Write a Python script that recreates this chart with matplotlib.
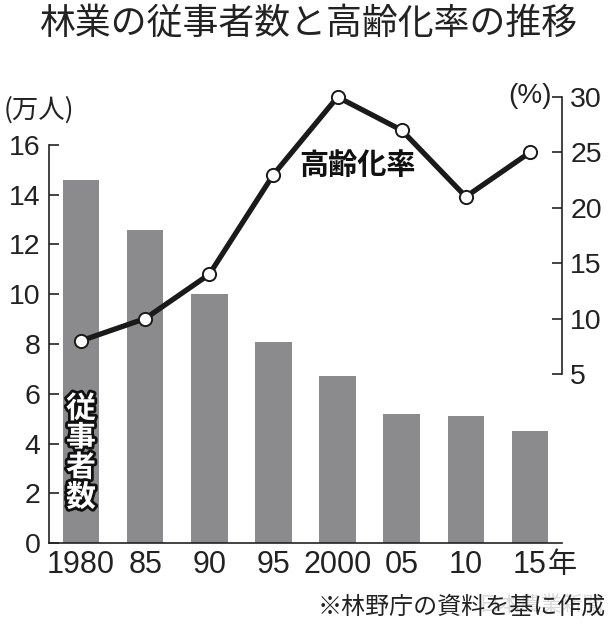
import matplotlib
matplotlib.use("Agg")
import matplotlib.pyplot as plt
import matplotlib.patheffects as pe

plt.rcParams['font.family'] = ['Noto Sans CJK JP', 'DejaVu Sans']

years = ["1980", "85", "90", "95", "2000", "05", "10", "15年"]
workers = [14.6, 12.6, 10.0, 8.1, 6.7, 5.2, 5.1, 4.5]      # 万人
aging = [8, 10, 14, 23, 30, 27, 21, 25]                     # %
left_ticks = [0, 2, 4, 6, 8, 10, 12, 14, 16]
right_ticks = [5, 10, 15, 20, 25, 30]

NUM = ['Liberation Sans', 'Noto Sans CJK JP', 'DejaVu Sans']
INK = '#222222'

W, H = 614, 630
fig = plt.figure(figsize=(W / 100, H / 100), dpi=100)
ax = fig.add_axes([49 / W, (H - 543) / H, (562 - 49) / W, (543 - 97) / H])
ax2 = ax.twinx()

x = list(range(len(years)))
ax.bar(x, workers, width=0.57, color='#8b8b8d', zorder=1)
ax.set_xlim(-0.5, 7.5)
ax.set_ylim(0, (543 - 97) / ((543 - 145) / 16))
ax.set_yticks(left_ticks)
ax.set_xticks(x)
# the unit "年" on the last label is drawn after the number, number centred on the bar
ax.set_xticklabels([y.replace("年", "") for y in years])

ax2.plot(x, aging, color='#1a1a1a', lw=3.8, marker='o', ms=9.5,
         mfc='white', mec='#1a1a1a', mew=1.4, zorder=5, clip_on=False)
r_per_px = (30 - 5) / (374 - 97)
ax2.set_ylim(5 - (543 - 374) * r_per_px, 30)
ax2.set_yticks(right_ticks)

ax2.set_zorder(ax.get_zorder() + 1)
ax2.patch.set_visible(False)

for a in (ax, ax2):
    a.spines['top'].set_visible(False)
    for s in a.spines.values():
        s.set_linewidth(1.2)
        s.set_color(INK)
ax.spines['right'].set_visible(False)
ax2.spines['left'].set_visible(False)
ax2.spines['bottom'].set_visible(False)
ax.spines['left'].set_bounds(0, 16)
ax2.spines['right'].set_bounds(5, 30)

ax.tick_params(axis='y', direction='in', length=7, width=1.2, pad=6, colors=INK)
ax.tick_params(axis='x', length=0, pad=5, colors=INK)
ax2.tick_params(axis='y', direction='in', length=7, width=1.2, pad=6, colors=INK)
for lab in ax.get_yticklabels() + ax2.get_yticklabels():
    lab.set_family(NUM)
    lab.set_fontsize(20.5)
for lab in ax.get_xticklabels():
    lab.set_family(NUM)
    lab.set_fontsize(22)

# "年" after the last x label
fig.text(548 / W, 1 - 565 / H, "年", ha='left', va='center', fontsize=21, color=INK)

fig.text(309 / W, 1 - 24 / H, "林業の従事者数と高齢化率の推移", ha='center', va='center',
         fontsize=25.8, color=INK)
fig.text(4 / W, 1 - 110 / H, "(万人)", ha='left', va='center', fontsize=19,
         color=INK)
fig.text(552 / W, 1 - 96 / H, "(%)", ha='right', va='center', fontsize=20,
         color=INK, family=NUM)
fig.text(357 / W, 1 - 165 / H, "高齢化率", ha='center', va='center', fontsize=21,
         fontweight='bold', color='#111111')
fig.text(81 / W, 1 - 453 / H, "従\n事\n者\n数", ha='center', va='center', fontsize=21.5,
         fontweight='bold', color='white', linespacing=0.98,
         path_effects=[pe.withStroke(linewidth=4, foreground='#111111')])
fig.text(541 / W, 1 - 605 / H, "日本農業新聞", ha='center', va='center', fontsize=15,
         color='#dadada', zorder=0)
fig.text(606 / W, 1 - 607 / H, "※林野庁の資料を基に作成", ha='right', va='center',
         fontsize=17.3, color=INK)

fig.savefig("out.png", dpi=100)
